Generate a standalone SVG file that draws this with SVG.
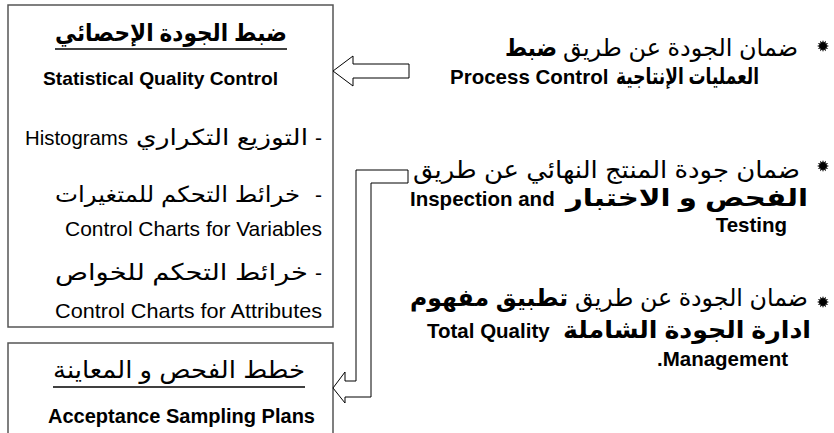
<svg xmlns="http://www.w3.org/2000/svg" width="834" height="433" viewBox="0 0 834 433">
<style>
.t{font-family:"Liberation Sans","DejaVu Sans",sans-serif;fill:#000}
.b{font-weight:bold}
.box{fill:#fff;stroke:#555;stroke-width:1.5}
.arr{fill:#fff;stroke:#000;stroke-width:1}
.ul{stroke:#000;stroke-width:1.5}
</style>
<defs>
<polygon id="star" points="6,0 3.38,0.91 5.2,3 2.47,2.47 3,5.2 0.91,3.38 0,6 -0.91,3.38 -3,5.2 -2.47,2.47 -5.2,3 -3.38,0.91 -6,0 -3.38,-0.91 -5.2,-3 -2.47,-2.47 -3,-5.2 -0.91,-3.38 0,-6 0.91,-3.38 3,-5.2 2.47,-2.47 5.2,-3 3.38,-0.91" fill="#000"/>
</defs>
<rect width="834" height="433" fill="#fff"/>
<g id="box-spc">
<rect class="box" x="8" y="5" width="325" height="322"/>
<text class="t b" x="55" y="41" font-size="24" textLength="232" lengthAdjust="spacingAndGlyphs">ضبط الجودة الإحصائي</text>
<line class="ul" x1="55" y1="49" x2="287" y2="49"/>
<text class="t b" x="43" y="85" font-size="19" textLength="235" lengthAdjust="spacingAndGlyphs">Statistical Quality Control</text>
<text class="t" x="25" y="145" font-size="21" textLength="103" lengthAdjust="spacingAndGlyphs">Histograms</text>
<text class="t" x="136" y="145" font-size="22" textLength="172" lengthAdjust="spacingAndGlyphs">التوزيع التكراري</text>
<text class="t" x="315" y="145" font-size="21">-</text>
<text class="t" x="55" y="202" font-size="22" textLength="245" lengthAdjust="spacingAndGlyphs">خرائط التحكم للمتغيرات</text>
<text class="t" x="315" y="202" font-size="21">-</text>
<text class="t" x="65" y="236" font-size="21" textLength="257" lengthAdjust="spacingAndGlyphs">Control Charts for Variables</text>
<text class="t" x="55" y="280" font-size="23" textLength="253" lengthAdjust="spacingAndGlyphs">خرائط التحكم للخواص</text>
<text class="t" x="315" y="280" font-size="21">-</text>
<text class="t" x="55" y="318" font-size="21" textLength="267" lengthAdjust="spacingAndGlyphs">Control Charts for Attributes</text>
</g>
<g id="box-asp">
<rect class="box" x="8" y="343" width="325" height="100"/>
<text class="t" x="53" y="378" font-size="24" textLength="252" lengthAdjust="spacingAndGlyphs">خطط الفحص و المعاينة</text>
<line class="ul" x1="53" y1="387" x2="305" y2="387"/>
<text class="t b" x="48" y="423" font-size="20" textLength="267" lengthAdjust="spacingAndGlyphs">Acceptance Sampling Plans</text>
</g>
<g id="m1">
<use href="#star" x="823" y="46"/>
<text class="t" x="563" y="56" font-size="24" textLength="235" lengthAdjust="spacingAndGlyphs">ضمان الجودة عن طريق</text>
<text class="t b" x="505" y="56" font-size="24" textLength="52" lengthAdjust="spacingAndGlyphs">ضبط</text>
<text class="t b" x="450" y="84" font-size="20.5">Process Control</text>
<text class="t b" x="616" y="84" font-size="23" textLength="143" lengthAdjust="spacingAndGlyphs">العمليات الإنتاجية</text>
</g>
<g id="m2">
<use href="#star" x="823" y="166"/>
<text class="t" x="413" y="178" font-size="24" textLength="387" lengthAdjust="spacingAndGlyphs">ضمان جودة المنتج النهائي عن طريق</text>
<text class="t b" x="410" y="206" font-size="20.5">Inspection and</text>
<text class="t b" x="566" y="206" font-size="24" textLength="242" lengthAdjust="spacingAndGlyphs">الفحص و الاختبار</text>
<text class="t b" x="787" y="232" font-size="20.5" text-anchor="end">Testing</text>
</g>
<g id="m3">
<use href="#star" x="823" y="302"/>
<text class="t" x="575" y="306" font-size="24" textLength="233" lengthAdjust="spacingAndGlyphs">ضمان الجودة عن طريق</text>
<text class="t b" x="410" y="306" font-size="24" textLength="158" lengthAdjust="spacingAndGlyphs">تطبيق مفهوم</text>
<text class="t b" x="427" y="338" font-size="20.5">Total Quality</text>
<text class="t b" x="563" y="338" font-size="24" textLength="248" lengthAdjust="spacingAndGlyphs">ادارة الجودة الشاملة</text>
<text class="t b" x="788" y="366" font-size="20.5" text-anchor="end">.Management</text>
</g>
<g id="connectors">
<polygon class="arr" points="333,71 353,56 353,64 409,64 409,78 353,78 353,86"/>
<polygon class="arr" points="333,388 345,372 345,381 356,381 356,170 408,170 408,183 371,183 371,397 345,397 345,403"/>
</g>
</svg>
